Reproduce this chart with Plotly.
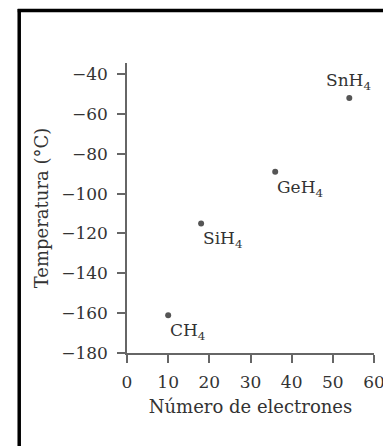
import plotly.graph_objects as go

# data
compounds = ["CH<sub>4</sub>", "SiH<sub>4</sub>", "GeH<sub>4</sub>", "SnH<sub>4</sub>"]
electrons = [10, 18, 36, 54]
boiling_c = [-161, -115, -89, -52]

x_ticks = [0, 10, 20, 30, 40, 50, 60]
y_ticks = [-40, -60, -80, -100, -120, -140, -160, -180]

FONT = "DejaVu Serif"
TXT = "#333333"
AX = "#666666"

# page body has an 8px margin; the figure is sized to fill the rest of the window
FW, FH = 383, 438
ML, MR, MT, MB = 118.5, 17, 55, 93

fig = go.Figure()
fig.add_trace(go.Scatter(
    x=electrons, y=boiling_c, mode="markers",
    marker=dict(size=6, color="#555555"),
    cliponaxis=False, showlegend=False, hoverinfo="skip",
))

# compound labels
for i, (name, xv, yv) in enumerate(zip(compounds, electrons, boiling_c)):
    if i == 3:
        fig.add_annotation(x=xv, y=yv, text=name, showarrow=False,
                           xanchor="center", yanchor="bottom", yshift=3, xshift=-1,
                           font=dict(family=FONT, size=17, color=TXT))
    else:
        fig.add_annotation(x=xv, y=yv, text=name, showarrow=False,
                           xanchor="left", yanchor="top", yshift=-3, xshift=0,
                           font=dict(family=FONT, size=17, color=TXT))

fig.update_layout(
    width=FW, height=FH,
    margin=dict(l=ML, r=MR, t=MT, b=MB, pad=0),
    paper_bgcolor="white", plot_bgcolor="white",
    font=dict(family=FONT, size=17, color=TXT),
    xaxis=dict(
        range=[0, 60], tickvals=x_ticks, ticktext=[str(v) for v in x_ticks],
        showgrid=False, zeroline=False, showline=True, linecolor=AX, linewidth=1.5,
        ticks="outside", ticklen=8, tickwidth=1.5, tickcolor=AX,
        tickfont=dict(family=FONT, size=17, color=TXT),
        ticklabelstandoff=5,
        title=dict(text="Número de electrones", font=dict(family=FONT, size=18, color=TXT), standoff=9),
        automargin=False,
    ),
    yaxis=dict(
        range=[-180, -34.5], tickvals=y_ticks, ticktext=["\u2212" + str(abs(v)) for v in y_ticks],
        showgrid=False, zeroline=False, showline=True, linecolor=AX, linewidth=1.5,
        ticks="outside", ticklen=8, tickwidth=1.5, tickcolor=AX,
        tickfont=dict(family=FONT, size=17, color=TXT),
        ticklabelstandoff=6,
        title=dict(text="Temperatura (°C)", font=dict(family=FONT, size=18, color=TXT), standoff=8),
        automargin=False,
    ),
)

# page frame (black border of the scanned figure box)
W = FW - ML - MR
H = FH - MT - MB
def px_x(p):
    return (p - ML) / W
def px_y(p):
    return (FH - MB - p) / H
fig.add_shape(type="line", xref="paper", yref="paper",
              x0=px_x(10.5), x1=px_x(10.5), y0=px_y(1), y1=px_y(FH),
              line=dict(color="black", width=3.5))
fig.add_shape(type="line", xref="paper", yref="paper",
              x0=px_x(9), x1=px_x(FW), y0=px_y(2.5), y1=px_y(2.5),
              line=dict(color="black", width=3.5))

fig.write_html("out.html")
